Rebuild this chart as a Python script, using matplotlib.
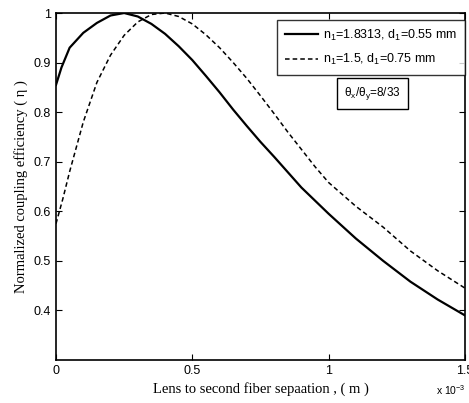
import matplotlib
matplotlib.use('Agg')
import matplotlib.pyplot as plt
import numpy as np

# separation in mm (axis is in m, x 10^-3)
x1 = [0, 0.02, 0.05, 0.1, 0.15, 0.2, 0.25, 0.3, 0.35, 0.4, 0.45, 0.5, 0.55,
      0.6, 0.65, 0.7, 0.75, 0.8, 0.9, 1.0, 1.1, 1.2, 1.3, 1.4, 1.5]
eta1 = [0.855, 0.89, 0.93, 0.96, 0.98, 0.995, 1.0, 0.993, 0.978, 0.958, 0.933,
        0.905, 0.873, 0.84, 0.805, 0.772, 0.74, 0.71, 0.648, 0.595, 0.545,
        0.50, 0.458, 0.422, 0.39]

x2 = [0, 0.025, 0.05, 0.1, 0.15, 0.2, 0.25, 0.3, 0.35, 0.4, 0.45, 0.5, 0.55,
      0.6, 0.65, 0.7, 0.75, 0.8, 0.85, 0.9, 0.95, 1.0, 1.1, 1.2, 1.3, 1.4, 1.5]
eta2 = [0.575, 0.625, 0.68, 0.78, 0.86, 0.915, 0.955, 0.982, 0.997, 1.0, 0.993,
        0.978, 0.956, 0.93, 0.90, 0.868, 0.833, 0.797, 0.76, 0.725, 0.69,
        0.658, 0.61, 0.568, 0.52, 0.48, 0.445]

labels = ['n$_1$=1.8313, d$_1$=0.55 mm', 'n$_1$=1.5, d$_1$=0.75 mm']
xticks = [0, 0.5, 1, 1.5]
xticklabels = ['0', '0.5', '1', '1.5']
yticks = [0.4, 0.5, 0.6, 0.7, 0.8, 0.9, 1.0]
yticklabels = ['0.4', '0.5', '0.6', '0.7', '0.8', '0.9', '1']

plt.rcParams['font.family'] = ['Liberation Sans', 'DejaVu Sans']
plt.rcParams['mathtext.fontset'] = 'custom'
plt.rcParams['mathtext.rm'] = 'Liberation Sans'
plt.rcParams['mathtext.it'] = 'Liberation Sans'

fig = plt.figure(figsize=(4.69, 4.03), dpi=100)
ax = fig.add_axes([0.1194, 0.1067, 0.872, 0.861])

xm1 = np.array(x1) * 1e-3
xm2 = np.array(x2) * 1e-3
ax.plot(xm1, eta1, '-', color='black', lw=1.6, label=labels[0])
ax.plot(xm2, eta2, '--', color='black', lw=1.1, dashes=(3, 2), label=labels[1])

ax.set_xlim(0, 1.5e-3)
ax.set_ylim(0.3, 1.0)
ax.set_xticks(np.array(xticks) * 1e-3)
ax.set_xticklabels(xticklabels)
ax.set_yticks(yticks)
ax.set_yticklabels(yticklabels)
ax.tick_params(direction='in', top=True, right=True, labelsize=9, length=4)
for s in ax.spines.values():
    s.set_linewidth(1.2)

ax.set_xlabel('Lens to second fiber sepaation , ( m )', family='Liberation Serif',
              fontsize=10.5, labelpad=4)
ax.set_ylabel('Normalized coupling efficiency ( η )', family='Liberation Serif',
              fontsize=10.5, labelpad=4)
fig.text(466 / 469, 1 - 383 / 403, 'x 10$^{-3}$', fontsize=7.5,
         ha='right', va='top')

leg = ax.legend(loc='upper right', bbox_to_anchor=(1.0, 0.98), fontsize=9,
                frameon=True, fancybox=False, edgecolor='black', handlelength=2.7,
                borderpad=0.6, labelspacing=0.75, borderaxespad=0.0,
                handletextpad=0.4)
leg.get_frame().set_linewidth(1.0)

ax.text(0.773, 0.768, 'θ$_x$/θ$_y$=8/33', transform=ax.transAxes, fontsize=8.5,
        ha='center', va='center',
        bbox=dict(boxstyle='square,pad=0.6', fc='white', ec='black', lw=1.0))

fig.savefig('out.png', dpi=100)
